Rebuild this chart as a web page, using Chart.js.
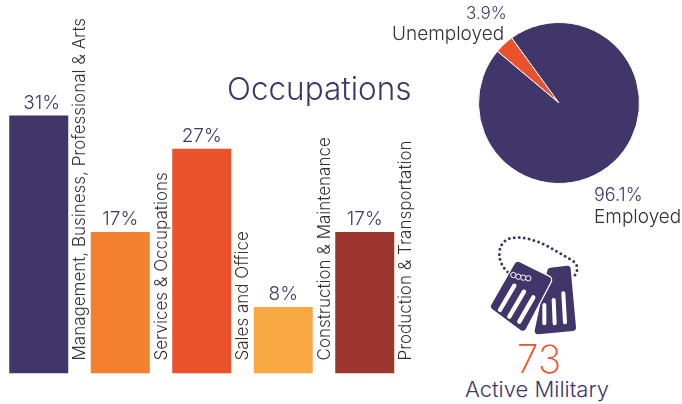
<!DOCTYPE html>
<html>
<head>
<meta charset="utf-8">
<title>Occupations</title>
<script src="https://cdn.jsdelivr.net/npm/chart.js@4"></script>
<style>
    html, body { margin: 0; padding: 0; background: #fff; }
    body { width: 682px; height: 404px; position: relative; overflow: hidden; font-family: Inter, sans-serif; font-weight: 300; }
    canvas { position: absolute; }
    #bars { left: -2px; top: 0; }
    #pie { left: 469px; top: 13px; }
    .txt { position: absolute; white-space: nowrap; line-height: 1; }
    #icon { position: absolute; left: 450px; top: 225px; }
</style>
</head>
<body>
<canvas id="bars" width="430" height="404"></canvas>
<canvas id="pie" width="180" height="180"></canvas>

<div class="txt" style="left:227px;top:73px;font-size:31.5px;color:#40366a">Occupations</div>
<div class="txt" style="left:466px;top:5px;font-size:17px;color:#40366a">3.9%</div>
<div class="txt" style="left:392px;top:24px;font-size:19px;color:#333">Unemployed</div>
<div class="txt" style="left:594px;top:186px;font-size:18px;color:#40366a">96.1%</div>
<div class="txt" style="left:594px;top:207px;font-size:19px;color:#333">Employed</div>
<div class="txt" style="left:517px;top:339px;font-size:39px;font-weight:200;color:#e9522b">73</div>
<div class="txt" style="left:465px;top:378px;font-size:22px;color:#40366a">Active Military</div>

<svg id="icon" width="180" height="179" viewBox="0 0 540 537">
    <path d="M375 150 Q392 122 365 105 L290 62 Q225 30 180 40 Q150 50 148 85 Q148 125 185 150" fill="none" stroke="#40366a" stroke-width="9" stroke-linecap="round" stroke-dasharray="0 15"/>
    <path d="M302 138 L352 132 L368 308 L264 318 Z" fill="#40366a" stroke="#40366a" stroke-width="20" stroke-linejoin="round"/>
    <g stroke="#fff" stroke-width="12" stroke-linecap="round">
        <line x1="283" y1="240" x2="283" y2="295"/>
        <line x1="311" y1="225" x2="314" y2="295"/>
        <line x1="340" y1="205" x2="345" y2="292"/>
    </g>
    <path d="M204 122 L292 165 L218 306 L134 244 Z" fill="#40366a" stroke="#fff" stroke-width="30" stroke-linejoin="round"/>
    <path d="M204 122 L292 165 L218 306 L134 244 Z" fill="#40366a" stroke="#40366a" stroke-width="22" stroke-linejoin="round"/>
    <g stroke="#fff" stroke-width="13" stroke-linecap="round">
        <line x1="193" y1="182" x2="150" y2="255"/>
        <line x1="222" y1="200" x2="178" y2="275"/>
        <line x1="250" y1="217" x2="208" y2="290"/>
    </g>
    <g fill="#40366a" stroke="#fff" stroke-width="3">
        <circle cx="190" cy="150" r="8"/><circle cx="205" cy="155" r="8"/><circle cx="220" cy="158" r="8"/><circle cx="235" cy="160" r="8"/>
    </g>
</svg>

<script>
// Donnees
const categories = [
    "Management, Business, Professional & Arts",
    "Services & Occupations",
    "Sales and Office",
    "Construction & Maintenance",
    "Production & Transportation"
];
const barValues = [31, 17, 27, 8, 17];
// bar order in the picture: the label stands to the right of its bar
const barColors = ["#40366a", "#f2802e", "#e9522b", "#f8a843", "#9c352d"];

const pieLabels = ["Unemployed", "Employed"];
const pieValues = [3.9, 96.1];
const pieColors = ["#e9522b", "#40366a"];

// Labels written directly on the bars
const barLabels = {
    id: "barLabels",
    afterDatasetsDraw(chart) {
        const ctx = chart.ctx;
        const meta = chart.getDatasetMeta(0);
        const yBase = chart.scales.y.getPixelForValue(0);
        ctx.save();
        meta.data.forEach((bar, i) => {
            ctx.font = "300 19px Inter, sans-serif";
            ctx.fillStyle = "#40366a";
            ctx.textAlign = "center";
            ctx.textBaseline = "alphabetic";
            ctx.fillText(barValues[i] + "%", bar.x + (i === 0 ? 3 : 0), bar.y - 7);

            ctx.save();
            ctx.translate(bar.x + 46.5, yBase - 13);
            ctx.rotate(-Math.PI / 2);
            ctx.font = "300 17px Inter, sans-serif";
            ctx.fillStyle = "#333";
            ctx.textAlign = "left";
            ctx.fillText(categories[i], 0, 0);
            ctx.restore();
        });
        ctx.restore();
    }
};

new Chart(document.getElementById("bars"), {
    type: "bar",
    data: {
        labels: categories,
        datasets: [{
            data: barValues,
            backgroundColor: barColors,
            categoryPercentage: 1,
            barPercentage: 0.724
        }]
    },
    options: {
        responsive: false,
        animation: false,
        layout: { padding: { left: 0, right: 22.5, top: 40.7, bottom: 30.5 } },
        plugins: { legend: { display: false }, tooltip: { enabled: false } },
        scales: {
            x: { display: false },
            y: { display: false, min: 0, max: 40 }
        }
    },
    plugins: [barLabels]
});

new Chart(document.getElementById("pie"), {
    type: "pie",
    data: {
        labels: pieLabels,
        datasets: [{
            data: pieValues,
            backgroundColor: pieColors,
            borderColor: "#fff",
            borderWidth: 1
        }]
    },
    options: {
        responsive: false,
        animation: false,
        rotation: -50,
        layout: { padding: 9 },
        plugins: { legend: { display: false }, tooltip: { enabled: false } }
    }
});
</script>
</body>
</html>
